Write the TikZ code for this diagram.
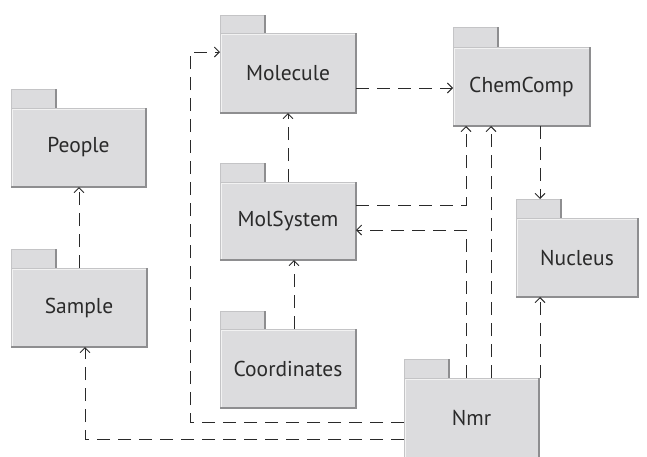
\documentclass[tikz,border=0pt]{standalone}
\usepackage{fontspec}
\setmainfont{PT Sans}
\usetikzlibrary{arrows.meta}
\definecolor{pkgfill}{HTML}{DCDCDE}
\definecolor{pkgedge}{HTML}{C4C4C6}
\definecolor{pkgshade}{HTML}{8E8E90}
\definecolor{pkglight}{HTML}{F2F2F2}
\definecolor{ink}{HTML}{2A2A2A}
\tikzset{
  pkgbody/.style={rectangle, fill=pkgfill, draw=pkgedge, line width=0.8pt,
    inner sep=0pt, outer sep=0pt, anchor=north west, text=ink,
    font=\fontsize{21.5}{25}\selectfont},
  dep/.style={draw=ink, line width=0.9pt, dash pattern=on 13pt off 8pt,
    -{Straight Barb[length=5pt,width=10pt,line width=0.9pt]}},
}
% \pkgbox{name}{left}{tab top}{body top}{right}{bottom}{label}
\newcommand{\pkgbox}[7]{%
  \path[fill=pkgfill, draw=pkgedge, line width=0.8pt] (#2,#3) rectangle (#2+45,#4);
  \draw[pkgshade, line width=1.2pt] (#2+45,#3) -- (#2+45,#4);
  \node[pkgbody, minimum width={(#5-#2)*1pt}, minimum height={(#6-#4)*1pt}] (#1) at (#2,#4) {#7};
  \draw[pkglight, line width=0.8pt] (#2+1,#6-1) -- (#2+1,#4+1) -- (#5-1,#4+1);
  \draw[pkgshade, line width=1.4pt] (#2,#6) -- (#5,#6) -- (#5,#4);
}
\begin{document}
\begin{tikzpicture}[x=1pt,y=-1pt]
\useasboundingbox (0,0) rectangle (647,456);
\begin{scope}
\clip (0,0) rectangle (647,456);
\pkgbox{people}{11}{89}{108}{146}{187}{People}
\pkgbox{sample}{11}{249}{268}{147}{347}{Sample}
\pkgbox{molecule}{220}{15}{33}{356}{113}{Molecule}
\pkgbox{chemcomp}{453}{27}{47}{590}{126}{ChemComp}
\pkgbox{molsys}{220}{163}{182}{356}{260}{MolSystem}
\pkgbox{coords}{220}{311}{329}{356}{408}{Coordinates}
\pkgbox{nucleus}{516}{199}{218}{638}{297}{Nucleus}
\pkgbox{nmr}{404}{359}{378}{539}{458}{Nmr}
\end{scope}

% turning points of the routed dependencies
\coordinate (bendA) at (466,205);
\coordinate (bendB) at (190,52);

\draw[dep] (molecule.east |- 0,88) -- (chemcomp.west |- 0,88);
\draw[dep] (288,0 |- molsys.north) -- (288,0 |- molecule.south);
\draw[dep] (294,0 |- coords.north) -- (294,0 |- molsys.south);
\draw[dep] (79,0 |- sample.north) -- (79,0 |- people.south);
\draw[dep] (molsys.east |- bendA) -- (bendA) -- (466,0 |- chemcomp.south);
\draw[dep] (466,0 |- nmr.north) -- (466,230) -- (molsys.east |- 0,230);
\draw[dep] (491,0 |- nmr.north) -- (491,0 |- chemcomp.south);
\draw[dep] (540,0 |- chemcomp.south) -- (540,199);
\draw[dep] (540,0 |- nmr.north) -- (540,0 |- nucleus.south);
\draw[dep] (nmr.west |- 0,422) -| (bendB) -- (molecule.west |- bendB);
\draw[dep] (nmr.west |- 0,439) -| (85,0 |- sample.south);
\end{tikzpicture}
\end{document}
